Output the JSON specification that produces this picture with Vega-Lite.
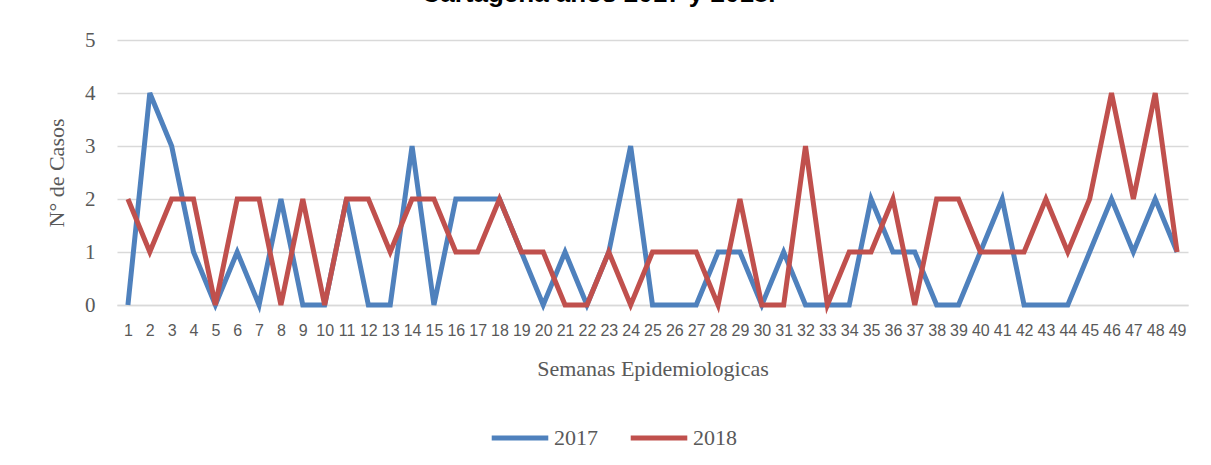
{
  "$schema": "https://vega.github.io/schema/vega-lite/v6.json",
  "autosize": {"type": "none"},
  "width": 1071,
  "height": 265,
  "padding": {"left": 117, "top": 40, "right": 23, "bottom": 160},
  "background": "white",
  "title": {
    "text": "Cartagena años 2017 y 2018.",
    "font": "Liberation Sans",
    "fontSize": 26,
    "fontWeight": "bold",
    "color": "#000000",
    "anchor": "middle",
    "baseline": "alphabetic",
    "dx": -54,
    "offset": 0,
    "dy": -1
  },
  "data": {
    "values": [
      {"semana": 1, "anio": "2017", "casos": 0}, {"semana": 2, "anio": "2017", "casos": 4}, {"semana": 3, "anio": "2017", "casos": 3}, {"semana": 4, "anio": "2017", "casos": 1}, {"semana": 5, "anio": "2017", "casos": 0}, {"semana": 6, "anio": "2017", "casos": 1}, {"semana": 7, "anio": "2017", "casos": 0}, {"semana": 8, "anio": "2017", "casos": 2}, {"semana": 9, "anio": "2017", "casos": 0}, {"semana": 10, "anio": "2017", "casos": 0},
      {"semana": 11, "anio": "2017", "casos": 2}, {"semana": 12, "anio": "2017", "casos": 0}, {"semana": 13, "anio": "2017", "casos": 0}, {"semana": 14, "anio": "2017", "casos": 3}, {"semana": 15, "anio": "2017", "casos": 0}, {"semana": 16, "anio": "2017", "casos": 2}, {"semana": 17, "anio": "2017", "casos": 2}, {"semana": 18, "anio": "2017", "casos": 2}, {"semana": 19, "anio": "2017", "casos": 1}, {"semana": 20, "anio": "2017", "casos": 0},
      {"semana": 21, "anio": "2017", "casos": 1}, {"semana": 22, "anio": "2017", "casos": 0}, {"semana": 23, "anio": "2017", "casos": 1}, {"semana": 24, "anio": "2017", "casos": 3}, {"semana": 25, "anio": "2017", "casos": 0}, {"semana": 26, "anio": "2017", "casos": 0}, {"semana": 27, "anio": "2017", "casos": 0}, {"semana": 28, "anio": "2017", "casos": 1}, {"semana": 29, "anio": "2017", "casos": 1}, {"semana": 30, "anio": "2017", "casos": 0},
      {"semana": 31, "anio": "2017", "casos": 1}, {"semana": 32, "anio": "2017", "casos": 0}, {"semana": 33, "anio": "2017", "casos": 0}, {"semana": 34, "anio": "2017", "casos": 0}, {"semana": 35, "anio": "2017", "casos": 2}, {"semana": 36, "anio": "2017", "casos": 1}, {"semana": 37, "anio": "2017", "casos": 1}, {"semana": 38, "anio": "2017", "casos": 0}, {"semana": 39, "anio": "2017", "casos": 0}, {"semana": 40, "anio": "2017", "casos": 1},
      {"semana": 41, "anio": "2017", "casos": 2}, {"semana": 42, "anio": "2017", "casos": 0}, {"semana": 43, "anio": "2017", "casos": 0}, {"semana": 44, "anio": "2017", "casos": 0}, {"semana": 45, "anio": "2017", "casos": 1}, {"semana": 46, "anio": "2017", "casos": 2}, {"semana": 47, "anio": "2017", "casos": 1}, {"semana": 48, "anio": "2017", "casos": 2}, {"semana": 49, "anio": "2017", "casos": 1},
      {"semana": 1, "anio": "2018", "casos": 2}, {"semana": 2, "anio": "2018", "casos": 1}, {"semana": 3, "anio": "2018", "casos": 2}, {"semana": 4, "anio": "2018", "casos": 2}, {"semana": 5, "anio": "2018", "casos": 0}, {"semana": 6, "anio": "2018", "casos": 2}, {"semana": 7, "anio": "2018", "casos": 2}, {"semana": 8, "anio": "2018", "casos": 0}, {"semana": 9, "anio": "2018", "casos": 2}, {"semana": 10, "anio": "2018", "casos": 0},
      {"semana": 11, "anio": "2018", "casos": 2}, {"semana": 12, "anio": "2018", "casos": 2}, {"semana": 13, "anio": "2018", "casos": 1}, {"semana": 14, "anio": "2018", "casos": 2}, {"semana": 15, "anio": "2018", "casos": 2}, {"semana": 16, "anio": "2018", "casos": 1}, {"semana": 17, "anio": "2018", "casos": 1}, {"semana": 18, "anio": "2018", "casos": 2}, {"semana": 19, "anio": "2018", "casos": 1}, {"semana": 20, "anio": "2018", "casos": 1},
      {"semana": 21, "anio": "2018", "casos": 0}, {"semana": 22, "anio": "2018", "casos": 0}, {"semana": 23, "anio": "2018", "casos": 1}, {"semana": 24, "anio": "2018", "casos": 0}, {"semana": 25, "anio": "2018", "casos": 1}, {"semana": 26, "anio": "2018", "casos": 1}, {"semana": 27, "anio": "2018", "casos": 1}, {"semana": 28, "anio": "2018", "casos": 0}, {"semana": 29, "anio": "2018", "casos": 2}, {"semana": 30, "anio": "2018", "casos": 0},
      {"semana": 31, "anio": "2018", "casos": 0}, {"semana": 32, "anio": "2018", "casos": 3}, {"semana": 33, "anio": "2018", "casos": 0}, {"semana": 34, "anio": "2018", "casos": 1}, {"semana": 35, "anio": "2018", "casos": 1}, {"semana": 36, "anio": "2018", "casos": 2}, {"semana": 37, "anio": "2018", "casos": 0}, {"semana": 38, "anio": "2018", "casos": 2}, {"semana": 39, "anio": "2018", "casos": 2}, {"semana": 40, "anio": "2018", "casos": 1},
      {"semana": 41, "anio": "2018", "casos": 1}, {"semana": 42, "anio": "2018", "casos": 1}, {"semana": 43, "anio": "2018", "casos": 2}, {"semana": 44, "anio": "2018", "casos": 1}, {"semana": 45, "anio": "2018", "casos": 2}, {"semana": 46, "anio": "2018", "casos": 4}, {"semana": 47, "anio": "2018", "casos": 2}, {"semana": 48, "anio": "2018", "casos": 4}, {"semana": 49, "anio": "2018", "casos": 1}
    ]
  },
  "mark": {"type": "line", "strokeWidth": 5, "strokeJoin": "miter", "strokeCap": "butt"},
  "encoding": {
    "x": {
      "field": "semana",
      "type": "ordinal",
      "sort": "ascending",
      "scale": {"type": "point", "padding": 0.5},
      "axis": {
        "title": "Semanas Epidemiologicas",
        "titleFont": "Liberation Serif",
        "titleFontSize": 22,
        "titleFontWeight": "normal",
        "titleColor": "#595959",
        "titlePadding": 20,
        "labelAngle": 0,
        "labelFont": "Liberation Sans",
        "labelFontSize": 16,
        "labelColor": "#595959",
        "labelPadding": 17,
        "labelOverlap": false,
        "ticks": false,
        "domain": true,
        "domainColor": "#d9d9d9",
        "domainWidth": 1.5,
        "grid": false
      }
    },
    "y": {
      "field": "casos",
      "type": "quantitative",
      "scale": {"domain": [0, 5], "nice": false},
      "axis": {
        "title": "N° de Casos",
        "titleFont": "Liberation Serif",
        "titleFontSize": 22,
        "titleFontWeight": "normal",
        "titleColor": "#595959",
        "titlePadding": 16,
        "values": [0, 1, 2, 3, 4, 5],
        "format": "d",
        "labelFont": "Liberation Serif",
        "labelFontSize": 21,
        "labelColor": "#595959",
        "labelPadding": 22,
        "ticks": false,
        "domain": false,
        "grid": true,
        "gridColor": "#d9d9d9",
        "gridWidth": 1.5
      }
    },
    "color": {
      "field": "anio",
      "type": "nominal",
      "scale": {"domain": ["2017", "2018"], "range": ["#4f81bd", "#c0504d"]},
      "legend": {
        "title": null,
        "orient": "none",
        "direction": "horizontal",
        "legendX": 372,
        "legendY": 367,
        "symbolType": "stroke",
        "symbolSize": 3200,
        "symbolStrokeWidth": 5,
        "labelFont": "Liberation Serif",
        "labelFontSize": 22,
        "labelColor": "#595959",
        "labelOffset": 3,
        "columnPadding": 22
      }
    }
  },
  "config": {"view": {"stroke": null}}
}
